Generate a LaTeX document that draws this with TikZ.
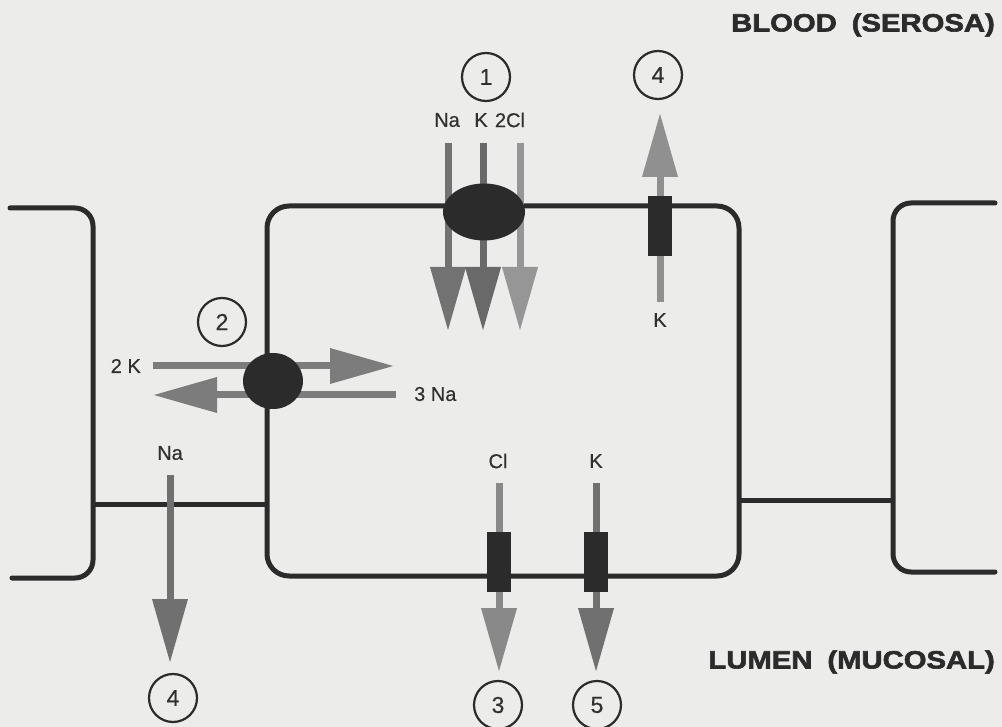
\documentclass[tikz,border=0pt]{standalone}
\usepackage{fontspec}
\setmainfont{Liberation Sans}
\newfontfamily\heavyfont[FakeBold=2.4,FakeStretch=1.17]{Liberation Sans Bold}
\newfontfamily\ionfont[FakeBold=0.4]{Liberation Sans}
\usetikzlibrary{arrows.meta,shapes.geometric}
\definecolor{bg}{HTML}{ECECEA}
\definecolor{memb}{HTML}{2B2B2B}
\definecolor{flux}{HTML}{7C7C7C}
\definecolor{txt}{HTML}{303030}
\tikzset{
  membrane/.style={draw=memb,line width=5pt,line cap=round},
  fluxarrow/.style={draw=flux,line width=7pt,-{Triangle[length=64pt,width=34pt]}},
  ion/.style={font=\ionfont\fontsize{20}{20}\selectfont,text=txt,inner sep=0pt},
  num/.style={circle,draw=memb,line width=2.2pt,minimum size=48pt,inner sep=0pt,font=\ionfont\fontsize{23}{23}\selectfont,text=txt},
  carrier/.style={ellipse,fill=memb,inner sep=0pt},
  channel/.style={rectangle,fill=memb,minimum width=24pt,minimum height=60pt,inner sep=0pt},
  side/.style={font=\heavyfont\fontsize{25}{25}\selectfont,text=memb,inner sep=0pt}
}
\begin{document}
\begin{tikzpicture}[x=1pt,y=-1pt]
\fill[bg] (0,0) rectangle (1002,727);
\useasboundingbox (0,0) rectangle (1002,727);
% membranes
\draw[membrane,rounded corners=18pt] (10,208) -- (93,208) -- (93,578) -- (12,578);
\draw[membrane,rounded corners=22pt] (267,206) rectangle (739,576);
\draw[membrane,rounded corners=18pt] (995,203) -- (893,203) -- (893,572) -- (995,572);
\draw[membrane,line cap=butt] (93,504) -- (267,504);
\draw[membrane,line cap=butt] (739,500) -- (893,500);
% side labels
\node[side,anchor=east] (blood) at (995,25) {BLOOD\hspace{0.6em}(SEROSA)};
\node[side,anchor=east] (lumen) at (995,662) {LUMEN\hspace{0.6em}(MUCOSAL)};
% number circles
\node[num] (n1) at (486,77) {1};
\node[num] (n4t) at (658,75) {4};
\node[num] (n2) at (222,322) {2};
\node[num] (n4b) at (173,698) {4};
\node[num] (n3) at (498,705) {3};
\node[num] (n5) at (597,705) {5};
% ion labels
\node[ion] (na1) at (447,120) {Na};
\node[ion] (k1) at (481,120) {K};
\node[ion] (cl1) at (510,120) {2Cl};
\node[ion] (k4) at (660,320) {K};
\node[ion,anchor=east] (k2) at (141,366) {2 K};
\node[ion,anchor=west] (na2) at (414,394) {3 Na};
\node[ion] (na4) at (170,453) {Na};
\node[ion] (cl3) at (498,461) {Cl};
\node[ion] (k5) at (596,461) {K};
% arrow end coordinates
\coordinate (a1s) at (448,143); \coordinate (a1e) at (448,331);
\coordinate (b1s) at (483,143); \coordinate (b1e) at (483,331);
\coordinate (c1s) at (520,143); \coordinate (c1e) at (520,331);
\coordinate (k4s) at (660,302); \coordinate (k4e) at (660,113);
\coordinate (k2s) at (153,366); \coordinate (k2e) at (394,366);
\coordinate (na2s) at (396,395); \coordinate (na2e) at (153,395);
\coordinate (na4s) at (170,475); \coordinate (na4e) at (170,663);
\coordinate (cl3s) at (499,483); \coordinate (cl3e) at (499,672);
\coordinate (k5s) at (596,483); \coordinate (k5e) at (596,672);
% flux arrows
\draw[fluxarrow,draw=flux!92!black] (a1s) -- (a1e);
\draw[fluxarrow,draw=flux!85!black] (b1s) -- (b1e);
\draw[fluxarrow,draw=flux!80!white] (c1s) -- (c1e);
\draw[fluxarrow,draw=flux!85!white] (k4s) -- (k4e);
\draw[fluxarrow] (k2s) -- (k2e);
\draw[fluxarrow] (na2s) -- (na2e);
\draw[fluxarrow,draw=flux!90!black] (na4s) -- (na4e);
\draw[fluxarrow,draw=flux!90!white] (cl3s) -- (cl3e);
\draw[fluxarrow,draw=flux!90!black] (k5s) -- (k5e);
% transporters and channels
\node[carrier,minimum width=82pt,minimum height=57pt] (nkcc) at (484,212) {};
\node[carrier,minimum width=60pt,minimum height=56pt] (pump) at (273,381) {};
\node[channel] (kch1) at (660,226) {};
\node[channel] (clch) at (499,562) {};
\node[channel] (kch2) at (596,562) {};
\end{tikzpicture}
\end{document}
